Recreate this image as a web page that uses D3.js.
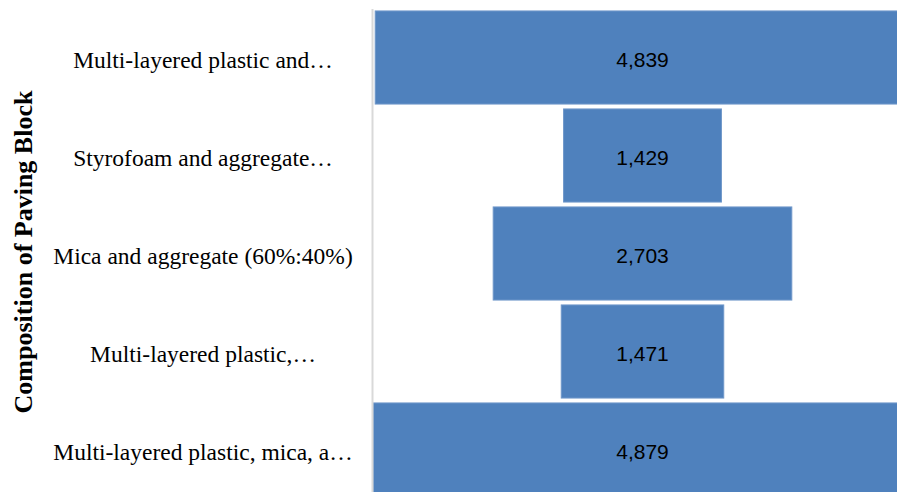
<!DOCTYPE html>
<html>
<head>
<meta charset="utf-8">
<script src="https://cdn.jsdelivr.net/npm/d3@7"></script>
<style>
  body { margin: 0; background: #fff; }
  svg { display: block; }
</style>
</head>
<body>
<div id="chart"></div>
<script>
// categories top to bottom, as they show on the axis (already cut by the chart tool)
var categories = [
  "Multi-layered plastic and\u2026",
  "Styrofoam and aggregate\u2026",
  "Mica and aggregate (60%:40%)",
  "Multi-layered plastic,\u2026",
  "Multi-layered plastic, mica, a\u2026"
];
var values = [4839, 1429, 2703, 1471, 4879];
var axisTitle = "Composition of Paving Block";

var width = 897,
    height = 492;

var svg = d3.select("#chart")
  .append("svg")
    .attr("width", width)
    .attr("height", height);

var maxVal = d3.max(values);

// plot runs past the right and bottom edges, like the cropped original
var x = d3.scaleLinear()
  .domain([0, maxVal])
  .range([373, 912]);

var y = d3.scaleBand()
  .domain(categories)
  .range([8.5, 498.5])
  .paddingInner(0.05)
  .paddingOuter(0.025);

// bars centred on the middle of the plot (funnel)
svg.selectAll("rect.bar")
  .data(values)
  .enter()
  .append("rect")
    .attr("class", "bar")
    .attr("x", function(d) { return x((maxVal - d) / 2); })
    .attr("y", function(d, i) { return y(categories[i]); })
    .attr("width", function(d) { return x(d) - x(0); })
    .attr("height", y.bandwidth())
    .attr("fill", "#4f81bd")
    .attr("stroke", "#6f97c9")
    .attr("stroke-width", 1);

// value labels
svg.selectAll("text.val")
  .data(values)
  .enter()
  .append("text")
    .attr("class", "val")
    .attr("x", x(maxVal / 2))
    .attr("y", function(d, i) { return y(categories[i]) + y.bandwidth() / 2 + 2; })
    .attr("dy", "0.35em")
    .attr("text-anchor", "middle")
    .style("font-family", "'Liberation Sans', Arial, sans-serif")
    .style("font-size", "21px")
    .style("fill", "#000")
    .text(function(d) { return d3.format(",")(d); });

// left axis: just the gray line
var axis = svg.append("g")
  .attr("transform", "translate(372,0)")
  .call(d3.axisLeft(y).tickSize(0).tickFormat(""));
axis.select(".domain")
  .attr("stroke", "#d9d9d9")
  .attr("stroke-width", 2);

// category labels, centred in the label area
svg.selectAll("text.cat")
  .data(categories)
  .enter()
  .append("text")
    .attr("class", "cat")
    .attr("x", 203)
    .attr("y", function(d) { return y(d) + y.bandwidth() / 2 + 2; })
    .attr("dy", "0.35em")
    .attr("text-anchor", "middle")
    .style("font-family", "'Liberation Serif', 'Times New Roman', serif")
    .style("font-size", "23.5px")
    .style("fill", "#000")
    .text(function(d) { return d; });

// axis title
svg.append("text")
  .attr("transform", "translate(32," + 252 + ") rotate(-90)")
  .attr("text-anchor", "middle")
  .style("font-family", "'Liberation Serif', 'Times New Roman', serif")
  .style("font-weight", "bold")
  .style("font-size", "26px")
  .style("fill", "#000")
  .text(axisTitle);
</script>
</body>
</html>
